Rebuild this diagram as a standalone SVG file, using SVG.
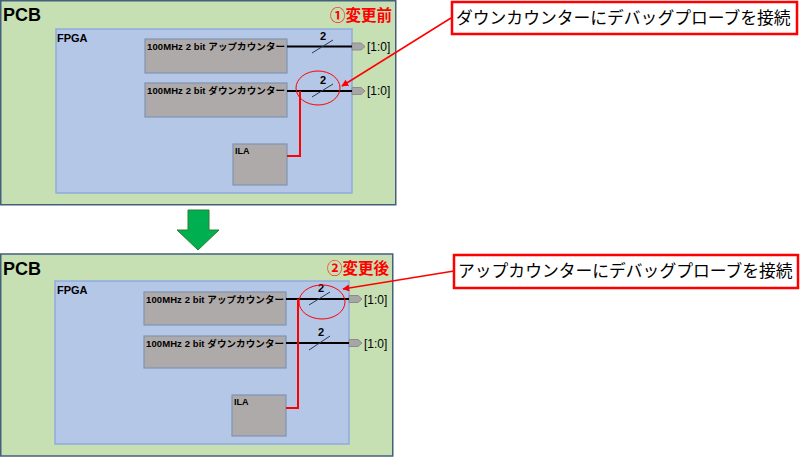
<svg xmlns="http://www.w3.org/2000/svg" width="800" height="457" viewBox="0 0 800 457">
<defs>
<style>
.pcb{fill:#c6e0b4;stroke:#44607a;stroke-width:1.5}
.fpga{fill:#b4c7e7;stroke:#8faadc;stroke-width:1.5}
.blk{fill:#aeaaaa;stroke:#7f93b5;stroke-width:1.2}
.t{font-family:"Liberation Sans","Noto Sans CJK JP",sans-serif;font-weight:bold;fill:#000}
.jp{font-family:"Noto Sans CJK JP",sans-serif}
.lbl{font-size:9.5px}
.bus{stroke:#000;stroke-width:2;fill:none}
.sl{stroke:#2f3b4c;stroke-width:1;fill:none}
.probe{stroke:#ff0000;stroke-width:2;fill:none}
.ell{stroke:#ff0000;stroke-width:1;fill:none}
.port{fill:#a6a6a6;stroke:#8c8c8c;stroke-width:1}
.pl{font-family:"Liberation Sans",sans-serif;font-size:12px;fill:#000}
.call{fill:#fff;stroke:#ff0000;stroke-width:2.5}
.ct{font-family:"Noto Sans CJK JP",sans-serif;font-size:16.8px;fill:#000}
.ttl{font-family:"Noto Sans CJK JP",sans-serif;font-weight:bold;font-size:15.5px;fill:#ff0000}
.ptr{stroke:#ff0000;stroke-width:1.5;fill:none}
</style>
<marker id="ah" viewBox="0 0 10 10" refX="9" refY="5" markerWidth="7" markerHeight="7" orient="auto" markerUnits="userSpaceOnUse">
<path d="M0,0 L10,5 L0,10 z" fill="#ff0000"/>
</marker>
</defs>

<!-- Top: before -->
<g id="pcb1">
<rect class="pcb" x="0.75" y="0.75" width="395" height="204"/>
<text class="t" x="3" y="21" font-size="18">PCB</text>
<text class="ttl" x="392" y="21" text-anchor="end">①変更前</text>
</g>
<g id="fpga1">
<rect class="fpga" x="56" y="29" width="296" height="164"/>
<text class="t" x="57" y="42" font-size="11">FPGA</text>
</g>
<g id="up1">
<rect class="blk" x="145" y="39" width="142" height="34"/>
<text class="t lbl" x="147" y="50" textLength="138" lengthAdjust="spacing">100MHz 2 bit <tspan class="jp">アップカウンター</tspan></text>
</g>
<g id="down1">
<rect class="blk" x="145" y="83" width="142" height="34"/>
<text class="t lbl" x="147" y="94" textLength="138" lengthAdjust="spacing">100MHz 2 bit <tspan class="jp">ダウンカウンター</tspan></text>
</g>
<g id="ila1">
<rect class="blk" x="233" y="144" width="54" height="41"/>
<text class="t" x="235" y="154" font-size="9">ILA</text>
</g>
<g id="port1a">
<path class="port" d="M352,43 L361,43 L365,46.5 L361,50 L352,50 z"/>
<text class="pl" x="367" y="51">[1:0]</text>
</g>
<g id="port1b">
<path class="port" d="M352,87.5 L361,87.5 L365,91 L361,94.5 L352,94.5 z"/>
<text class="pl" x="367" y="95">[1:0]</text>
</g>
<g id="callout1">
<rect class="call" x="452" y="2" width="345" height="32"/>
<text class="ct" x="456" y="24">ダウンカウンターにデバッグプローブを接続</text>
</g>

<!-- Bottom: after -->
<g id="pcb2">
<rect class="pcb" x="0.75" y="254" width="392" height="202"/>
<text class="t" x="3" y="275" font-size="18">PCB</text>
<text class="ttl" x="389" y="274" text-anchor="end">②変更後</text>
</g>
<g id="fpga2">
<rect class="fpga" x="55" y="281" width="294" height="163"/>
<text class="t" x="57" y="294" font-size="11">FPGA</text>
</g>
<g id="up2">
<rect class="blk" x="144" y="292" width="142" height="33"/>
<text class="t lbl" x="146" y="303" textLength="138" lengthAdjust="spacing">100MHz 2 bit <tspan class="jp">アップカウンター</tspan></text>
</g>
<g id="down2">
<rect class="blk" x="144" y="336" width="142" height="32"/>
<text class="t lbl" x="146" y="347" textLength="138" lengthAdjust="spacing">100MHz 2 bit <tspan class="jp">ダウンカウンター</tspan></text>
</g>
<g id="ila2">
<rect class="blk" x="232" y="395" width="54" height="41"/>
<text class="t" x="234" y="405" font-size="9">ILA</text>
</g>
<g id="port2a">
<path class="port" d="M349,295.5 L358,295.5 L362,299 L358,302.5 L349,302.5 z"/>
<text class="pl" x="364" y="304">[1:0]</text>
</g>
<g id="port2b">
<path class="port" d="M349,339.5 L358,339.5 L362,343 L358,346.5 L349,346.5 z"/>
<text class="pl" x="364" y="348">[1:0]</text>
</g>
<g id="callout2">
<rect class="call" x="454" y="255" width="344" height="33"/>
<text class="ct" x="458" y="277">アップカウンターにデバッグプローブを接続</text>
</g>

<!-- Green transition arrow -->
<g id="arrow">
<path d="M188,210 L209,210 L209,230 L219,230 L198,250 L177,230 L188,230 z" fill="#00b050" stroke="#2e7d32" stroke-width="1"/>
</g>

<!-- Connectors -->
<g id="connectors">
<line class="bus" x1="287" y1="46.5" x2="352" y2="46.5"/>
<line class="sl" x1="312" y1="53" x2="333" y2="40"/>
<text class="t" x="323" y="40" font-size="11" text-anchor="middle">2</text>
<line class="bus" x1="287" y1="91" x2="352" y2="91"/>
<line class="sl" x1="312" y1="97" x2="333" y2="84"/>
<text class="t" x="323" y="84" font-size="11" text-anchor="middle">2</text>
<path class="probe" d="M300,91 L300,156 L287,156"/>
<ellipse class="ell" cx="318" cy="88" rx="22" ry="17"/>
<line class="ptr" x1="451" y1="18" x2="342" y2="86" marker-end="url(#ah)"/>

<line class="bus" x1="286" y1="299" x2="349" y2="299"/>
<line class="sl" x1="309" y1="305" x2="330" y2="292"/>
<text class="t" x="321" y="292" font-size="11" text-anchor="middle">2</text>
<line class="bus" x1="286" y1="343" x2="349" y2="343"/>
<line class="sl" x1="309" y1="350" x2="330" y2="336"/>
<text class="t" x="321" y="336" font-size="11" text-anchor="middle">2</text>
<path class="probe" d="M298,299 L298,408 L286,408"/>
<ellipse class="ell" cx="322" cy="302" rx="23" ry="17"/>
<line class="ptr" x1="454" y1="271" x2="343" y2="289" marker-end="url(#ah)"/>
</g>
</svg>
